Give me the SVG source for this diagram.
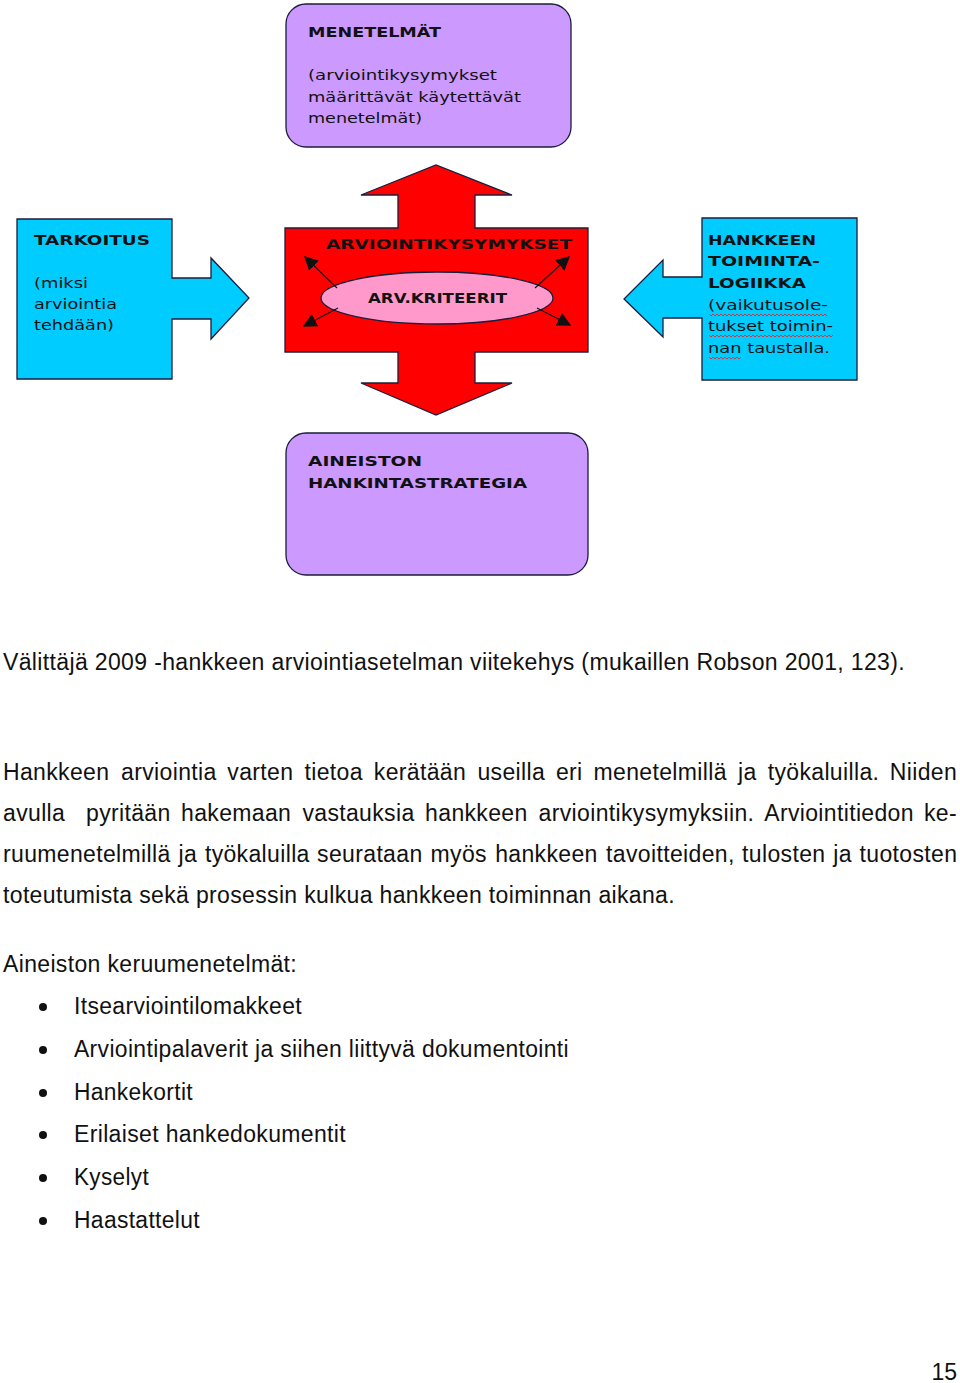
<svg xmlns="http://www.w3.org/2000/svg" width="960" height="1383" viewBox="0 0 960 1383">
<style>
.dg{font-family:"DejaVu Sans",Verdana,sans-serif;font-size:14px;fill:#111}
.b{font-weight:bold}
.body{font-family:"Liberation Sans",Arial,sans-serif;font-size:23px;letter-spacing:0.35px;fill:#111}
.shape{stroke:#1c1c3c;stroke-width:1.3}
.purple{fill:#cc99ff}
.blue{fill:#00ccff}
.red{fill:#ff0000}
.pink{fill:#ff99cc}
.conn{stroke:#111;stroke-width:1.2;fill:none}
.wavy{stroke:#e03030;stroke-width:1;fill:none}
</style>
<defs>
<marker id="ah" viewBox="0 0 10 10" refX="9" refY="5" markerWidth="14" markerHeight="14" markerUnits="userSpaceOnUse" orient="auto">
<path d="M0,0 L10,5 L0,10 Z" fill="#111"/>
</marker>
</defs>
<rect width="960" height="1383" fill="#fff"/>

<g id="menetelmat">
<rect class="shape purple" x="286" y="4" width="285" height="143" rx="20"/>
<text class="dg b" x="308" y="37" textLength="133" lengthAdjust="spacingAndGlyphs">MENETELMÄT</text>
<text class="dg" x="308" y="80" textLength="189" lengthAdjust="spacingAndGlyphs">(arviointikysymykset</text>
<text class="dg" x="308" y="102" textLength="213" lengthAdjust="spacingAndGlyphs">määrittävät käytettävät</text>
<text class="dg" x="308" y="123" textLength="114" lengthAdjust="spacingAndGlyphs">menetelmät)</text>
</g>

<g id="tarkoitus">
<path class="shape blue" d="M17,219 L172,219 L172,278 L211,278 L211,258 L249,298 L211,339 L211,319 L172,319 L172,379 L17,379 Z"/>
<text class="dg b" x="34" y="245" textLength="116" lengthAdjust="spacingAndGlyphs">TARKOITUS</text>
<text class="dg" x="34" y="288" textLength="54" lengthAdjust="spacingAndGlyphs">(miksi</text>
<text class="dg" x="34" y="309" textLength="83" lengthAdjust="spacingAndGlyphs">arviointia</text>
<text class="dg" x="34" y="330" textLength="80" lengthAdjust="spacingAndGlyphs">tehdään)</text>
</g>

<g id="arviointikysymykset">
<path class="shape red" d="M285,228 L398,228 L398,195 L361,195 L436,165 L512,195 L475,195 L475,228 L588,228 L588,352 L475,352 L475,383 L512,383 L436,415 L361,383 L398,383 L398,352 L285,352 Z"/>
<text class="dg b" x="326" y="249" textLength="246" lengthAdjust="spacingAndGlyphs">ARVIOINTIKYSYMYKSET</text>
</g>

<g id="kriteerit">
<ellipse class="shape pink" cx="437" cy="298" rx="116" ry="26"/>
<text class="dg b" x="368" y="303" textLength="139" lengthAdjust="spacingAndGlyphs">ARV.KRITEERIT</text>
</g>

<g id="toimintalogiikka">
<path class="shape blue" d="M702,218 L857,218 L857,380 L702,380 L702,318 L663,318 L663,337 L624,299 L663,260 L663,277 L702,277 Z"/>
<text class="dg b" x="708" y="245" textLength="108" lengthAdjust="spacingAndGlyphs">HANKKEEN</text>
<text class="dg b" x="708" y="266" textLength="112" lengthAdjust="spacingAndGlyphs">TOIMINTA-</text>
<text class="dg b" x="708" y="288" textLength="98" lengthAdjust="spacingAndGlyphs">LOGIIKKA</text>
<text class="dg" x="708" y="310" textLength="120" lengthAdjust="spacingAndGlyphs">(vaikutusole-</text>
<text class="dg" x="708" y="331" textLength="125" lengthAdjust="spacingAndGlyphs">tukset toimin-</text>
<text class="dg" x="708" y="353" textLength="122" lengthAdjust="spacingAndGlyphs">nan taustalla.</text>
<path class="wavy" d="M709,314 l2,2 l2,-2 l2,2 l2,-2 l2,2 l2,-2 l2,2 l2,-2 l2,2 l2,-2 l2,2 l2,-2 l2,2 l2,-2 l2,2 l2,-2 l2,2 l2,-2 l2,2 l2,-2 l2,2 l2,-2 l2,2 l2,-2 l2,2 l2,-2 l2,2 l2,-2 l2,2 l2,-2 l2,2 l2,-2 l2,2 l2,-2 l2,2 l2,-2 l2,2 l2,-2 l2,2 l2,-2 l2,2 l2,-2 l2,2 l2,-2 l2,2 l2,-2 l2,2 l2,-2 l2,2 l2,-2 l2,2 l2,-2 l2,2 l2,-2 l2,2 l2,-2 l2,2 l2,-2 l2,2"/>
<path class="wavy" d="M709,335 l2,2 l2,-2 l2,2 l2,-2 l2,2 l2,-2 l2,2 l2,-2 l2,2 l2,-2 l2,2 l2,-2 l2,2 l2,-2 l2,2 l2,-2 l2,2 l2,-2 l2,2 l2,-2 l2,2 l2,-2 l2,2 l2,-2 l2,2 l2,-2 l2,2 l2,-2 l2,2 l2,-2 l2,2 l2,-2 l2,2 l2,-2 l2,2 l2,-2 l2,2 l2,-2 l2,2 l2,-2 l2,2 l2,-2 l2,2 l2,-2 l2,2 l2,-2 l2,2 l2,-2 l2,2 l2,-2 l2,2 l2,-2 l2,2 l2,-2 l2,2 l2,-2 l2,2 l2,-2 l2,2 l2,-2 l2,2 l2,-2"/>
<path class="wavy" d="M709,357 l2,2 l2,-2 l2,2 l2,-2 l2,2 l2,-2 l2,2 l2,-2 l2,2 l2,-2 l2,2 l2,-2 l2,2 l2,-2 l2,2 l2,-2"/>
</g>

<g id="aineisto">
<rect class="shape purple" x="286" y="433" width="302" height="142" rx="20"/>
<text class="dg b" x="308" y="466" textLength="114" lengthAdjust="spacingAndGlyphs">AINEISTON</text>
<text class="dg b" x="308" y="488" textLength="219" lengthAdjust="spacingAndGlyphs">HANKINTASTRATEGIA</text>
</g>

<g id="connectors">
<line class="conn" x1="337" y1="288" x2="305" y2="257" marker-end="url(#ah)"/>
<line class="conn" x1="338" y1="308" x2="304" y2="326" marker-end="url(#ah)"/>
<line class="conn" x1="535" y1="288" x2="569" y2="257" marker-end="url(#ah)"/>
<line class="conn" x1="537" y1="308" x2="570" y2="325" marker-end="url(#ah)"/>
</g>

<g id="text">
<text class="body" x="3" y="670" textLength="902" lengthAdjust="spacingAndGlyphs">Välittäjä 2009 -hankkeen arviointiasetelman viitekehys (mukaillen Robson 2001, 123).</text>

<text class="body" y="780"><tspan x="3">Hankkeen</tspan><tspan x="121.1">arviointia</tspan><tspan x="227.3">varten</tspan><tspan x="304.5">tietoa</tspan><tspan x="373.8">kerätään</tspan><tspan x="477.4">useilla</tspan><tspan x="555.9">eri</tspan><tspan x="593.5">menetelmillä</tspan><tspan x="738">ja</tspan><tspan x="767.7">työkaluilla.</tspan><tspan x="889.8">Niiden</tspan></text>
<text class="body" y="821"><tspan x="3">avulla</tspan><tspan x="86">pyritään</tspan><tspan x="181">hakemaan</tspan><tspan x="302.4">vastauksia</tspan><tspan x="425.1">hankkeen</tspan><tspan x="538.6">arviointikysymyksiin.</tspan><tspan x="764.2">Arviointitiedon</tspan><tspan x="923.9">ke-</tspan></text>
<text class="body" y="862"><tspan x="3">ruumenetelmillä</tspan><tspan x="178.5">ja</tspan><tspan x="204.9">työkaluilla</tspan><tspan x="317.1">seurataan</tspan><tspan x="430.6">myös</tspan><tspan x="495.2">hankkeen</tspan><tspan x="606.1">tavoitteiden,</tspan><tspan x="742.1">tulosten</tspan><tspan x="833.2">ja</tspan><tspan x="859.6">tuotosten</tspan></text>
<text class="body" x="3" y="903" textLength="672" lengthAdjust="spacingAndGlyphs">toteutumista sekä prosessin kulkua hankkeen toiminnan aikana.</text>

<text class="body" x="3" y="972" textLength="294" lengthAdjust="spacingAndGlyphs">Aineiston keruumenetelmät:</text>
<g id="bullets" fill="#111">
<circle cx="43" cy="1007" r="4"/>
<circle cx="43" cy="1050" r="4"/>
<circle cx="43" cy="1093" r="4"/>
<circle cx="43" cy="1135" r="4"/>
<circle cx="43" cy="1178" r="4"/>
<circle cx="43" cy="1221" r="4"/>
</g>
<text class="body" x="74" y="1014" textLength="228" lengthAdjust="spacingAndGlyphs">Itsearviointilomakkeet</text>
<text class="body" x="74" y="1057" textLength="495" lengthAdjust="spacingAndGlyphs">Arviointipalaverit ja siihen liittyvä dokumentointi</text>
<text class="body" x="74" y="1100" textLength="119" lengthAdjust="spacingAndGlyphs">Hankekortit</text>
<text class="body" x="74" y="1142" textLength="272" lengthAdjust="spacingAndGlyphs">Erilaiset hankedokumentit</text>
<text class="body" x="74" y="1185" textLength="75" lengthAdjust="spacingAndGlyphs">Kyselyt</text>
<text class="body" x="74" y="1228" textLength="126" lengthAdjust="spacingAndGlyphs">Haastattelut</text>

<text class="body" x="957" y="1380" text-anchor="end" style="letter-spacing:0">15</text>
</g>
</svg>
